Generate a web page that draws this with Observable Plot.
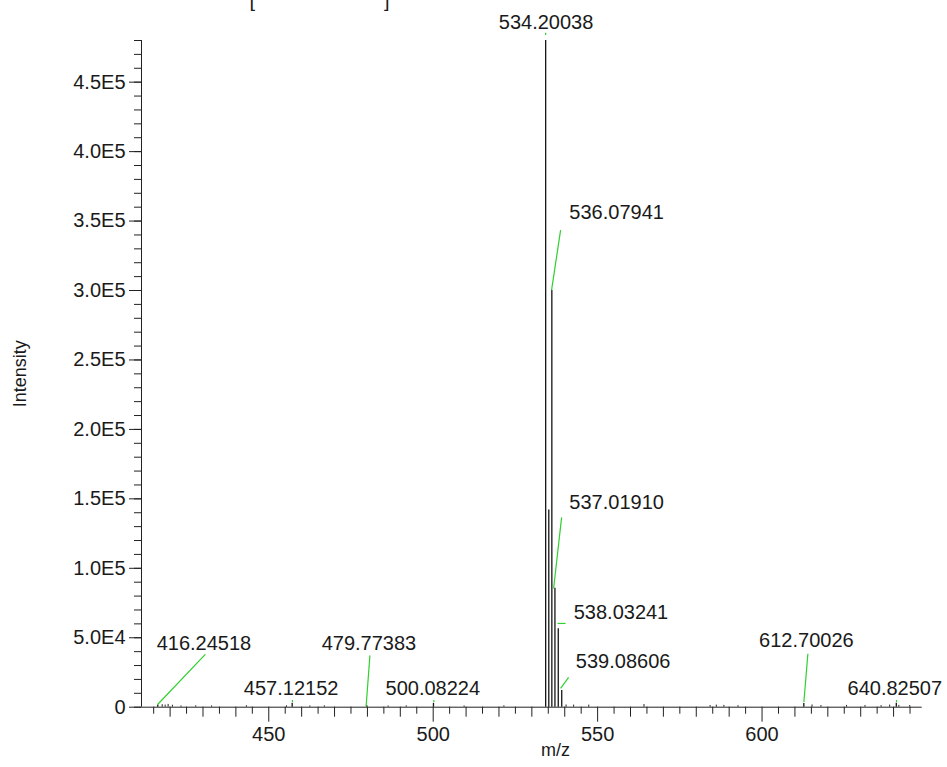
<!DOCTYPE html>
<html><head><meta charset="utf-8">
<script src="https://cdn.jsdelivr.net/npm/d3@7"></script>
<script src="https://cdn.jsdelivr.net/npm/@observablehq/plot@0.6"></script>
<style>
body{margin:0;background:#fff;}
#chart{width:947px;height:767px;}
</style></head><body><div id="chart"></div>
<script>
// ---- data ----
const peakMz = [534.20038, 535.15, 536.07941, 537.01910, 538.03241, 539.08606, 416.24518, 457.12152, 479.77383, 500.08224, 612.70026, 640.82507];
const peakIntensity = [480000, 142000, 300000, 85700, 56500, 12000, 1500, 2800, 1200, 2800, 2600, 2800];

const noiseMz = [417.6, 418.5, 419.4, 420.7, 423.3, 427.8, 432.6, 443.2, 455.4, 462.5, 466.9, 486.3, 491.8, 509.4, 521.5, 540.4, 542.7, 547.3, 564.1, 584.2, 586.1, 588.4, 592.7, 615.2, 617.9, 625.7, 631.3, 636.2, 638.8, 641.6, 644.9];
const noiseIntensity = [1800, 1500, 2000, 1400, 900, 1000, 900, 1100, 1000, 900, 1000, 900, 1000, 900, 1000, 1600, 1500, 1500, 1900, 1200, 1500, 1300, 1100, 1600, 1200, 1300, 1200, 1100, 1500, 1300, 1200];

const labelText = ["534.20038", "536.07941", "537.01910", "538.03241", "539.08606", "416.24518", "457.12152", "479.77383", "500.08224", "612.70026", "640.82507"];
const labelMz = [534.33, 555.77, 555.77, 557.10, 557.75, 430.28, 456.80, 480.45, 499.88, 613.48, 640.36];
const labelIntensity = [488400, 351500, 142500, 63200, 27900, 41400, 8900, 41400, 8900, 43200, 8900];

const leaderMz1 = [534.20, 536.00, 536.62, 537.83, 538.74, 416.20, 457.20, 479.60, 500.20, 612.72, 640.90];
const leaderInt1 = [484000, 300300, 85500, 60300, 13500, 1950, 3700, 500, 3700, 3600, 3700];
const leaderMz2 = [534.20, 538.74, 539.05, 540.26, 541.18, 430.70, 457.20, 480.76, 500.20, 613.94, 640.90];
const leaderInt2 = [485500, 343500, 136700, 60300, 21400, 38000, 5200, 37300, 5200, 38500, 5200];

const xMajorTicks = [450, 500, 550, 600];
const xMidTicks = [420, 430, 440, 460, 470, 480, 490, 510, 520, 530, 540, 560, 570, 580, 590, 610, 620, 630, 640];
const xMinorTicks = [415, 425, 435, 445, 455, 465, 475, 485, 495, 505, 515, 525, 535, 545, 555, 565, 575, 585, 595, 605, 615, 625, 635, 645];
const yMajorTicks = [0, 50000, 100000, 150000, 200000, 250000, 300000, 350000, 400000, 450000];
const yMinorTicks = d3.range(0, 480001, 10000);

const xDomain = [411.3, 648.7];
const yDomain = [0, 480000];

// ---- tables built from arrays ----
const peaks = peakMz.map((mz, i) => ({mz, intensity: peakIntensity[i]}));
const noise = noiseMz.map((mz, i) => ({mz, intensity: noiseIntensity[i]}));
const labels = labelText.map((text, i) => ({text, mz: labelMz[i], intensity: labelIntensity[i]}));
const leaders = leaderMz1.map((m, i) => ({x1: m, y1: leaderInt1[i], x2: leaderMz2[i], y2: leaderInt2[i]}));

const fmtY = d => {
  if (d === 0) return "0";
  const e = Math.floor(Math.log10(d) + 1e-9);
  return (d / Math.pow(10, e)).toFixed(1) + "E" + e;
};

const font = "'Liberation Sans', Arial, sans-serif";
const blank = () => "";

const chart = Plot.plot({
  width: 947,
  height: 767,
  marginLeft: 141,
  marginRight: 25.3,
  marginTop: 40,
  marginBottom: 60.3,
  style: {fontFamily: font, fontSize: "20px", color: "#1a1a1a", background: "#fff", overflow: "visible"},
  x: {domain: xDomain},
  y: {domain: yDomain},
  marks: [
    Plot.axisY({ticks: yMinorTicks, tickSize: 7, tickFormat: blank, label: null, stroke: "#222"}),
    Plot.axisY({ticks: yMajorTicks, tickSize: 12, tickPadding: 4, tickFormat: fmtY, label: null, stroke: "#222", fontSize: 20}),
    Plot.axisX({ticks: xMinorTicks, tickSize: 7, tickFormat: blank, label: null, stroke: "#222"}),
    Plot.axisX({ticks: xMidTicks, tickSize: 10, tickFormat: blank, label: null, stroke: "#222"}),
    Plot.axisX({ticks: xMajorTicks, tickSize: 15, tickPadding: 5, label: null, stroke: "#222", fontSize: 20}),
    Plot.ruleY([yDomain[0]], {stroke: "#222"}),
    Plot.ruleX([xDomain[0]], {stroke: "#222"}),
    Plot.ruleX(noise, {x: "mz", y: "intensity", stroke: "#222", strokeWidth: 1}),
    Plot.ruleX(peaks, {x: "mz", y: "intensity", stroke: "#151515", strokeWidth: 1.3}),
    Plot.link(leaders, {x1: "x1", y1: "y1", x2: "x2", y2: "y2", stroke: "#2fd02f", strokeWidth: 1.2}),
    Plot.text(labels, {x: "mz", y: "intensity", text: "text", lineAnchor: "bottom", fontSize: 20, fill: "#1a1a1a", fontFamily: font}),
    Plot.text(["Intensity"], {frameAnchor: "left", dx: -121, rotate: -90, textAnchor: "middle", lineAnchor: "middle", fontSize: 18, fill: "#1a1a1a"}),
    Plot.text(["m/z"], {frameAnchor: "bottom", dx: 23.7, dy: 43.3, textAnchor: "middle", lineAnchor: "middle", fontSize: 18, fill: "#1a1a1a"}),
    Plot.text(["["], {frameAnchor: "top-left", dx: 108, dy: -34, lineAnchor: "bottom", textAnchor: "start", fontSize: 20, fill: "#1a1a1a"}),
    Plot.text(["]"], {frameAnchor: "top-left", dx: 248, dy: -34, lineAnchor: "bottom", textAnchor: "end", fontSize: 20, fill: "#1a1a1a"})
  ]
});
document.getElementById("chart").appendChild(chart);
</script>
</body></html>
